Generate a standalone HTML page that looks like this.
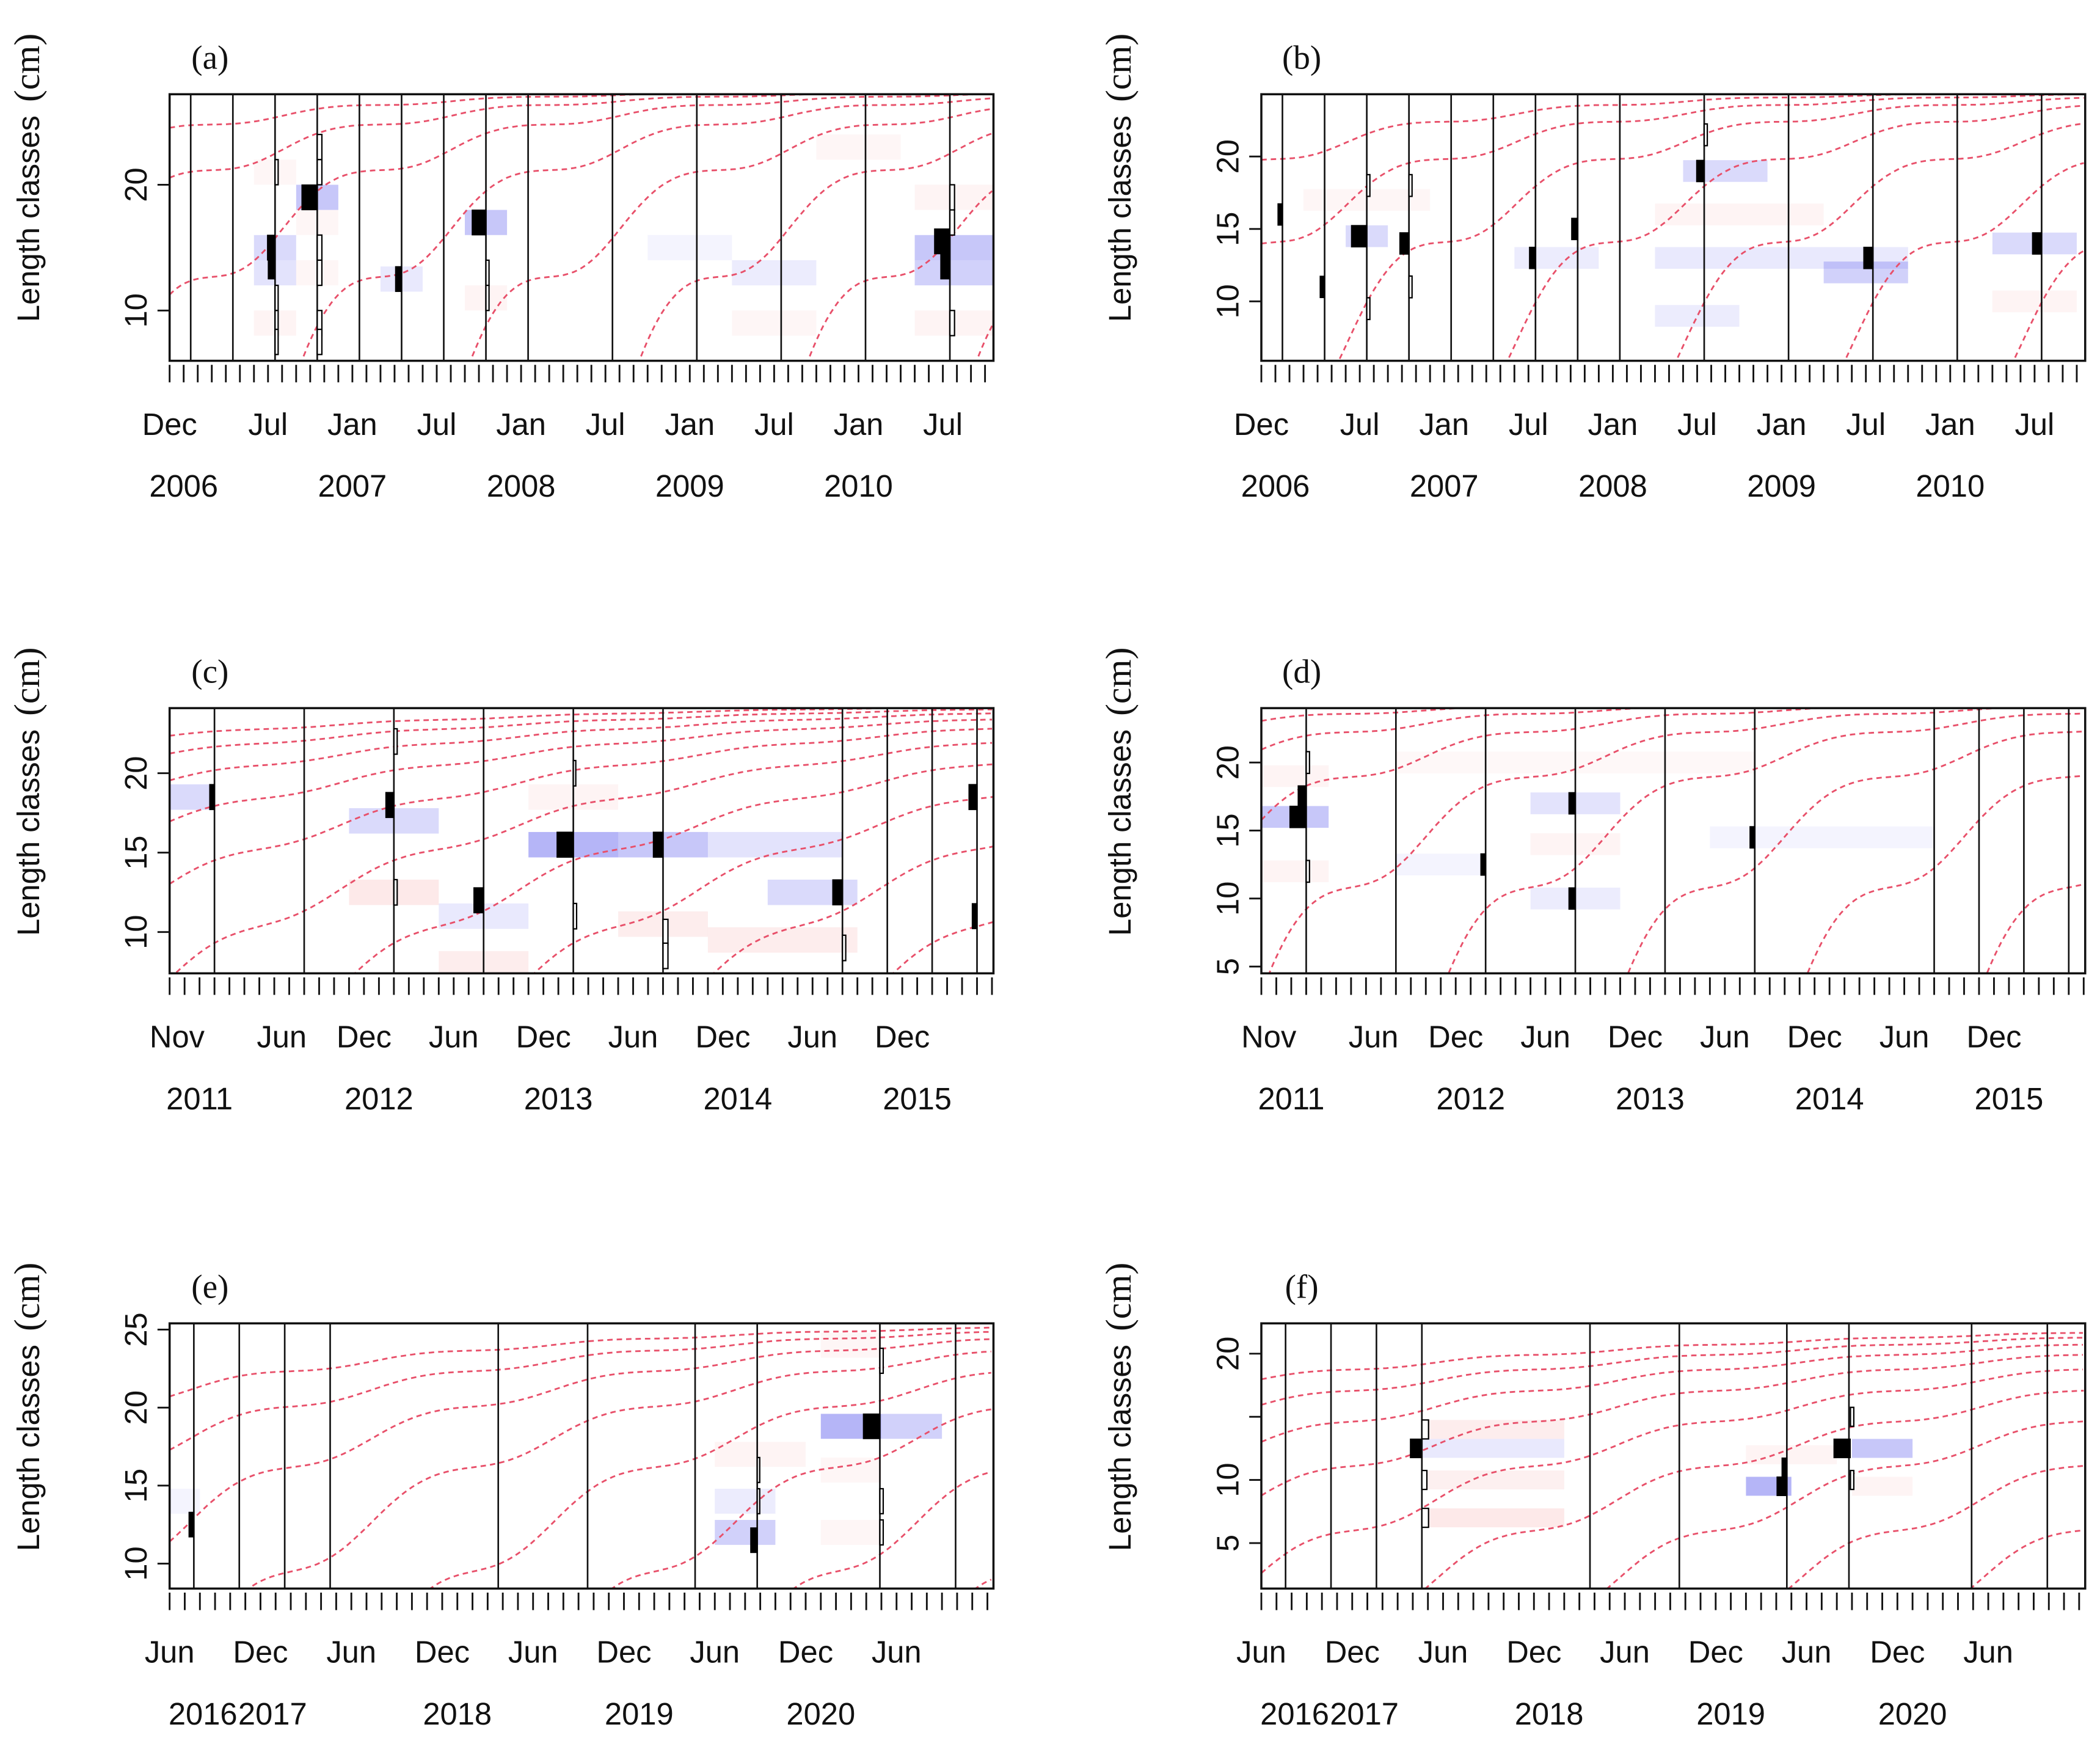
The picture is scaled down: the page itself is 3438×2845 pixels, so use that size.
<!DOCTYPE html>
<html><head><meta charset="utf-8"><style>
html,body{margin:0;padding:0;background:#fff}
svg{display:block}
text{font-family:"Liberation Sans",sans-serif;fill:#111}
</style></head><body>
<svg id="chart" xmlns="http://www.w3.org/2000/svg" width="3438" height="2845" viewBox="0 0 1560 1291" preserveAspectRatio="none"></svg>
<script>
// ---------- data ----------
const panelLetters = ["(a)","(b)","(c)","(d)","(e)","(f)"];
const samplesA = [1.5,4.5,7.5,10.5,13.5,16.5,19.5,22.5,25.5,31.5,37.5,43.5,49.5,55.5];
const samplesC = [3,9,15,21,27,33,45,48,51,54];
const samplesE = [1.6,4.6,7.6,10.6,21.7,27.6,34.7,38.8,46.9,51.9];
const monthLabelsA = ["Dec","Jul","Jan","Jul","Jan","Jul","Jan","Jul","Jan","Jul"];
const monthPosA = [0,7,13,19,25,31,37,43,49,55];
const yearLabelsA = ["2006","2007","2008","2009","2010"];
const yearPosA = [1,13,25,37,49];
const monthLabelsC = ["Nov","Jun","Dec","Jun","Dec","Jun","Dec","Jun","Dec"];
const monthPosC = [0.5,7.5,13,19,25,31,37,43,49];
const yearLabelsC = ["2011","2012","2013","2014","2015"];
const yearPosC = [2,14,26,38,50];
const monthLabelsE = ["Jun","Dec","Jun","Dec","Jun","Dec","Jun","Dec","Jun"];
const monthPosE = [0,6,12,18,24,30,36,42,48];
const yearLabelsE = ["2016","2017","2018","2019","2020"];
const yearPosE = [2.2,6.8,19,31,43];
// bars: [sample month, length class centre, value (+ black, - outlined)]
const barsA = [[10.5,19,1],[7.5,15,0.5],[7.5,13.5,0.45],[7.5,21,-0.2],[7.5,11,-0.2],[7.5,9,-0.2],[7.5,7.5,-0.2],[10.5,23,-0.3],[10.5,21,-0.3],[10.5,15,-0.3],[10.5,13,-0.3],[10.5,9,-0.3],[10.5,7.5,-0.3],[16.5,12.5,0.4],[22.5,17,0.9],[22.5,13,-0.2],[22.5,11,-0.2],[55.5,15.5,1],[55.5,13.5,0.6],[55.5,19,-0.3],[55.5,17,-0.3],[55.5,9,-0.3]];
const barsB = [[7.5,14.5,1],[10.5,14,0.6],[4.5,11,0.3],[1.5,16,0.3],[19.5,13,0.4],[22.5,15,0.4],[31.5,19,0.5],[43.5,13,0.6],[55.5,14,0.6],[10.5,18,-0.2],[10.5,11,-0.2],[7.5,18,-0.2],[7.5,9.5,-0.2],[31.5,21.5,-0.2]];
const barsC = [[27,15.5,1],[33,15.5,0.6],[21,12,0.6],[15,18,0.5],[45,12.5,0.6],[3,18.5,0.3],[54,18.5,0.5],[54,11,0.3],[15,22,-0.2],[15,12.5,-0.2],[27,20,-0.15],[27,11,-0.2],[33,10,-0.3],[33,8.5,-0.3],[45,9,-0.2]];
const barsD = [[3,16,1],[3,17.5,0.5],[21,17,0.4],[21,10,0.4],[15,12.5,0.3],[33,14.5,0.3],[3,20,-0.2],[3,12,-0.2]];
const barsE = [[46.9,18.8,1],[38.8,11.5,0.4],[1.6,12.5,0.3],[38.8,16,-0.15],[38.8,14,-0.15],[46.9,23,-0.2],[46.9,14,-0.2],[46.9,12,-0.2]];
const barsF = [[10.6,12.5,0.7],[38.9,12.5,1],[34.7,9.5,0.6],[34.7,11,0.3],[10.6,14,-0.4],[10.6,10,-0.3],[10.6,7,-0.4],[38.9,15,-0.2],[38.9,10,-0.2]];
// shading: [month from, month to, length centre, colour, intensity]
const shadeA = [[6,9,15,"b",0.2],[6,9,13,"b",0.15],[6,9,9,"r",0.08],[6,9,21,"r",0.06],[9,12,19,"b",0.3],[9,12,17,"r",0.06],[9,12,13,"r",0.06],[21,24,17,"b",0.3],[21,24,11,"r",0.08],[15,18,12.5,"b",0.12],[53,58.6,15,"b",0.3],[53,58.6,13,"b",0.25],[53,58.6,19,"r",0.08],[53,58.6,9,"r",0.08],[34,40,15,"b",0.06],[40,46,13,"b",0.1],[40,46,9,"r",0.06],[46,52,23,"r",0.06]];
const shadeB = [[6,9,14.5,"b",0.2],[30,36,19,"b",0.2],[28,40,16,"r",0.08],[28,46,13,"b",0.12],[40,46,12,"b",0.25],[52,58,14,"b",0.2],[52,58,10,"r",0.08],[28,34,9,"b",0.1],[3,12,17,"r",0.06],[18,24,13,"b",0.1]];
const shadeC = [[24,30,15.5,"b",0.4],[30,36,15.5,"b",0.3],[36,45,15.5,"b",0.15],[40,46,12.5,"b",0.2],[36,46,9.5,"r",0.12],[12,18,17,"b",0.2],[12,18,12.5,"r",0.15],[18,24,11,"b",0.12],[0,3,18.5,"b",0.2],[24,30,18.5,"r",0.08],[30,36,10.5,"r",0.12],[18,24,8,"r",0.12]];
const shadeD = [[0,4.5,16,"b",0.3],[0,4.5,19,"r",0.08],[0,4.5,12,"r",0.08],[18,24,17,"b",0.15],[18,24,10,"b",0.1],[18,24,14,"r",0.08],[30,45,14.5,"b",0.06],[9,15,12.5,"b",0.06],[9,33,20,"r",0.05]];
const shadeE = [[43,47,18.8,"b",0.4],[47,51,18.8,"b",0.25],[36,40,12,"b",0.25],[36,40,14,"b",0.1],[36,42,17,"r",0.08],[43,47,12,"r",0.06],[43,47,16,"r",0.06],[0,2,14,"b",0.06],[43,47,24,"r",0.06]];
const shadeF = [[10.6,20,12.5,"b",0.12],[10.6,20,14,"r",0.12],[10.6,20,10,"r",0.1],[10.6,20,7,"r",0.15],[32,35,9.5,"b",0.4],[39,43,12.5,"b",0.3],[39,43,9.5,"r",0.08],[32,38,12,"r",0.08]];
// growth curve params: Linf, K(/yr), C, winter point month, first birth month, first cohort index
const growthA = [27.5,0.85,0.9,3,-4.5,-2];
const growthB = [24.5,0.8,0.9,1,-1.5,-2];
const growthC = [24.5,0.42,0.5,6,-10.4,-5];
const growthD = [24.5,0.9,0.8,6,-1,-3];
const growthE = [25.5,0.54,0.7,8,-1,-3];
const growthF = [22.5,0.37,0.7,6,-2.7,-4];

// ---------- layout ----------
const panels = [
 {x0:126,x1:738,y0:70,y1:268,N:58.6,ymin:6.0,ymax:27.2,yt:[10,20],ytl:[10,20],s:samplesA,b:barsA,sh:shadeA,g:growthA,bin:2,ml:monthLabelsA,mp:monthPosA,yl:yearLabelsA,yp:yearPosA},
 {x0:937,x1:1549,y0:70,y1:268,N:58.6,ymin:5.9,ymax:24.3,yt:[10,15,20],ytl:[10,15,20],s:samplesA,b:barsB,sh:shadeB,g:growthB,bin:1.5,ml:monthLabelsA,mp:monthPosA,yl:yearLabelsA,yp:yearPosA},
 {x0:126,x1:738,y0:526,y1:723,N:55.1,ymin:7.4,ymax:24.1,yt:[10,15,20],ytl:[10,15,20],s:samplesC,b:barsC,sh:shadeC,g:growthC,bin:1.6,ml:monthLabelsC,mp:monthPosC,yl:yearLabelsC,yp:yearPosC},
 {x0:937,x1:1549,y0:526,y1:723,N:55.1,ymin:4.5,ymax:24.0,yt:[5,10,15,20],ytl:[5,10,15,20],s:samplesC,b:barsD,sh:shadeD,g:growthD,bin:1.6,ml:monthLabelsC,mp:monthPosC,yl:yearLabelsC,yp:yearPosC},
 {x0:126,x1:738,y0:983,y1:1180,N:54.4,ymin:8.4,ymax:25.4,yt:[10,15,20,25],ytl:[10,15,20,25],s:samplesE,b:barsE,sh:shadeE,g:growthE,bin:1.6,ml:monthLabelsE,mp:monthPosE,yl:yearLabelsE,yp:yearPosE},
 {x0:937,x1:1549,y0:983,y1:1180,N:54.4,ymin:1.4,ymax:22.4,yt:[5,10,15,20],ytl:[5,10,"",20],s:samplesE,b:barsF,sh:shadeF,g:growthF,bin:1.5,ml:monthLabelsE,mp:monthPosE,yl:yearLabelsE,yp:yearPosE}
];
const NS="http://www.w3.org/2000/svg";
const svg=document.getElementById('chart');
function mk(tag,attrs,parent){const e=document.createElementNS(NS,tag);for(const k in attrs)e.setAttribute(k,attrs[k]);(parent||svg).appendChild(e);return e;}

panels.forEach((p,i)=>{
  const g=mk('g',{});
  
  
  const xs=m=>p.x0+(m/p.N)*(p.x1-p.x0);
  const ys=v=>p.y1-(v-p.ymin)/(p.ymax-p.ymin)*(p.y1-p.y0);
  const cid='clip'+i;
  const cp=mk('clipPath',{id:cid},g);
  mk('rect',{x:p.x0,y:p.y0,width:p.x1-p.x0,height:p.y1-p.y0},cp);
  const inner=mk('g',{'clip-path':'url(#'+cid+')'},g);
  // shading
  p.sh.forEach(d=>{
    const r=mk('rect',{x:xs(d[0]),y:ys(d[2]+p.bin/2),width:xs(d[1])-xs(d[0]),height:ys(d[2]-p.bin/2)-ys(d[2]+p.bin/2),
      fill:d[3]==='b'?'rgb(70,70,235)':'rgb(240,110,110)','fill-opacity':d[4]},inner);
    
    
  });
  // growth curves
  const [Linf,K,C,wp,b0,nStart]=p.g;
  const ts=wp/12-0.5;
  const S=m=>C*K/(2*Math.PI)*Math.sin(2*Math.PI*(m/12-ts));
  for(let n=nStart;n<8;n++){
    const birth=b0+12*n;
    let pts=[];
    for(let m=Math.max(0,birth);m<=p.N+0.01;m+=0.25){
      const t=(m-birth)/12;
      const L=Linf*(1-Math.exp(-K*t-S(m)+S(birth)));
      pts.push(xs(m).toFixed(1)+','+ys(L).toFixed(1));
    }
    if(pts.length<2)continue;
    const pl=mk('polyline',{points:pts.join(' '),fill:'none',stroke:'#e8506a','stroke-width':1.3,'stroke-dasharray':'4 3'},inner);
    
    
  }
  // sample lines
  p.s.forEach(m=>{
    const l=mk('line',{x1:xs(m),x2:xs(m),y1:p.y0,y2:p.y1,stroke:'#111','stroke-width':1.2},inner);
    
    
  });
  // bars
  const bw=1.1;
  p.b.forEach(d=>{
    const v=d[2];
    const xa=v>0?xs(d[0]-v*bw):xs(d[0]);
    const w=Math.abs(xs(d[0]+Math.abs(v)*bw)-xs(d[0]));
    const r=mk('rect',{x:xa,y:ys(d[1]+p.bin/2),width:w,height:ys(d[1]-p.bin/2)-ys(d[1]+p.bin/2),
      fill:v>0?'#000':'#fff',stroke:'#000','stroke-width':v>0?0.5:1},inner);
    
    
  });
  // frame
  const f=mk('rect',{x:p.x0,y:p.y0,width:p.x1-p.x0,height:p.y1-p.y0,fill:'none',stroke:'#111','stroke-width':1.6},g);
  
  
  // x ticks
  for(let m=0;m<=p.N;m++){
    const t=mk('line',{x1:xs(m),x2:xs(m),y1:p.y1+3,y2:p.y1+16,stroke:'#111','stroke-width':1.3},g);
    
    
  }
  p.ml.forEach((lab,j)=>{
    const t=mk('text',{x:xs(p.mp[j]),y:p.y1+55,'font-size':23,'text-anchor':'middle'},g);
    t.textContent=lab;
    
    
  });
  p.yl.forEach((lab,j)=>{
    const t=mk('text',{x:xs(p.yp[j]),y:p.y1+101,'font-size':23,'text-anchor':'middle'},g);
    t.textContent=lab;
    
    
  });
  // y ticks
  p.yt.forEach((v,j)=>{
    const t=mk('line',{x1:p.x0-9,x2:p.x0,y1:ys(v),y2:ys(v),stroke:'#111','stroke-width':1.3},g);
    
    
    const lab=p.ytl[j];
    if(lab!==""){
      const tx=mk('text',{x:0,y:0,'font-size':23,'text-anchor':'middle',transform:`translate(${p.x0-17},${ys(v)}) rotate(-90)`},g);
      tx.textContent=lab;
      
      
    }
  });
  // y title
  const yt=mk('text',{x:0,y:0,'font-size':23,'text-anchor':'middle',transform:`translate(${p.x0-97},${p.y0+62}) rotate(-90)`},g);
  yt.innerHTML='<tspan>Length classes</tspan><tspan dx="10" style="font-family:\'Liberation Serif\',serif" font-size="27">(cm)</tspan>';
  
  
  // panel letter
  const pl=mk('text',{x:p.x0+30,y:p.y0-19,'font-size':25,'text-anchor':'middle'},g);
  pl.setAttribute('style','font-family:"Liberation Serif",serif');
  pl.textContent=panelLetters[i];
  
  
});
</script>
</body></html>
